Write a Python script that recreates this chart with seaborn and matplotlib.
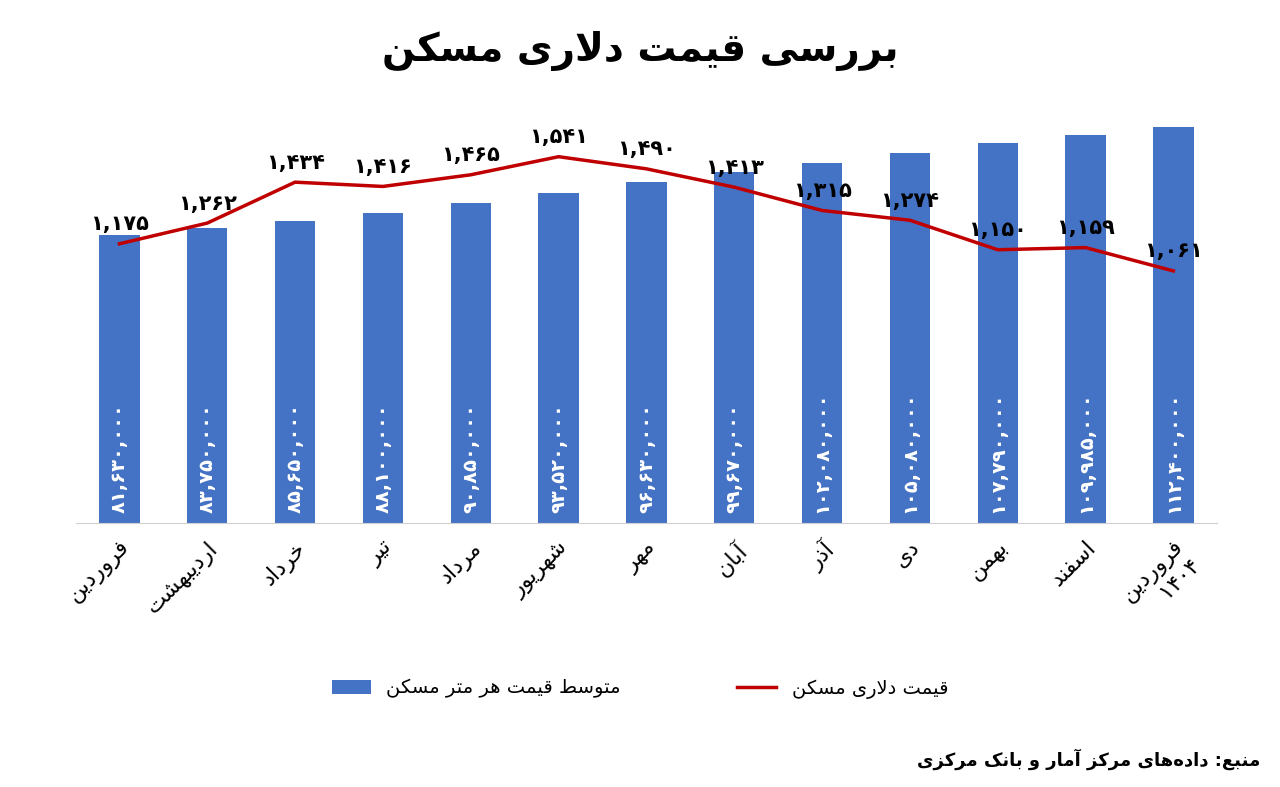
import matplotlib
matplotlib.use("Agg")
import matplotlib.pyplot as plt
import seaborn as sns
import pandas as pd
import re

# Persian shaping (matplotlib has no bidi / joining support)
FORMS = {
    'ا': ('\uFE8D', '\uFE8E', None, None), 'آ': ('\uFE81', '\uFE82', None, None),
    'ب': ('\uFE8F', '\uFE90', '\uFE91', '\uFE92'), 'ت': ('\uFE95', '\uFE96', '\uFE97', '\uFE98'),
    'ج': ('\uFE9D', '\uFE9E', '\uFE9F', '\uFEA0'), 'ح': ('\uFEA1', '\uFEA2', '\uFEA3', '\uFEA4'),
    'خ': ('\uFEA5', '\uFEA6', '\uFEA7', '\uFEA8'), 'د': ('\uFEA9', '\uFEAA', None, None),
    'ذ': ('\uFEAB', '\uFEAC', None, None), 'ر': ('\uFEAD', '\uFEAE', None, None),
    'ز': ('\uFEAF', '\uFEB0', None, None), 'س': ('\uFEB1', '\uFEB2', '\uFEB3', '\uFEB4'),
    'ش': ('\uFEB5', '\uFEB6', '\uFEB7', '\uFEB8'), 'ط': ('\uFEC1', '\uFEC2', '\uFEC3', '\uFEC4'),
    'ع': ('\uFEC9', '\uFECA', '\uFECB', '\uFECC'), 'ف': ('\uFED1', '\uFED2', '\uFED3', '\uFED4'),
    'ق': ('\uFED5', '\uFED6', '\uFED7', '\uFED8'), 'ک': ('\uFB8E', '\uFB8F', '\uFB90', '\uFB91'),
    'ل': ('\uFEDD', '\uFEDE', '\uFEDF', '\uFEE0'), 'م': ('\uFEE1', '\uFEE2', '\uFEE3', '\uFEE4'),
    'ن': ('\uFEE5', '\uFEE6', '\uFEE7', '\uFEE8'), 'ه': ('\uFEE9', '\uFEEA', '\uFEEB', '\uFEEC'),
    'و': ('\uFEED', '\uFEEE', None, None), 'ی': ('\uFBFC', '\uFBFD', '\uFBFE', '\uFBFF'),
}


def shape_word(w):
    w = w.replace('لا', '\uE000')
    out = []
    for i, c in enumerate(w):
        if c == '\uE000':
            prev = w[i - 1] if i > 0 else ''
            joins = prev in FORMS and FORMS[prev][2] is not None
            out.append('\uFEFC' if joins else '\uFEFB')
            continue
        if c not in FORMS:
            out.append(c)
            continue
        prev = w[i - 1] if i > 0 else ''
        nxt = w[i + 1] if i + 1 < len(w) else ''
        jp = prev in FORMS and FORMS[prev][2] is not None
        jn = FORMS[c][2] is not None and (nxt in FORMS or nxt == '\uE000')
        f = FORMS[c]
        if jp and jn:
            out.append(f[3])
        elif jp:
            out.append(f[1])
        elif jn:
            out.append(f[2])
        else:
            out.append(f[0])
    return ''.join(out)


def fa(text):
    lines = []
    for line in text.split('\n'):
        toks = re.findall(r'[۰-۹0-9,]+|[^۰-۹0-9,]+', line)
        res = []
        for t in toks:
            if re.fullmatch(r'[۰-۹0-9,]+', t):
                res.append(t)
            else:
                res.append(shape_word(t).replace('\u200c', '')[::-1])
        lines.append(''.join(res[::-1]))
    return '\n'.join(lines)


def pdig(s):
    return s.translate(str.maketrans('0123456789', '۰۱۲۳۴۵۶۷۸۹'))


months = ['فروردین', 'اردیبهشت', 'خرداد', 'تیر', 'مرداد', 'شهریور', 'مهر',
          'آبان', 'آذر', 'دی', 'بهمن', 'اسفند', 'فروردین\n۱۴۰۴']
price_per_m2 = [81630000, 83750000, 85650000, 88100000, 90850000, 93520000, 96630000,
                99670000, 102080000, 105080000, 107790000, 109985000, 112400000]
dollar_price = [1175, 1262, 1434, 1416, 1465, 1541, 1490, 1413, 1315, 1274, 1150, 1159, 1061]

title = 'بررسی قیمت دلاری مسکن'
bar_name = 'متوسط قیمت هر متر مسکن'
line_name = 'قیمت دلاری مسکن'
source = 'منبع: داده‌های مرکز آمار و بانک مرکزی'

plt.rcParams['font.family'] = 'DejaVu Sans'
df = pd.DataFrame({'i': range(len(months)), 'price': price_per_m2, 'usd': dollar_price})

fig = plt.figure(figsize=(12.8, 7.87), dpi=100)
ax = fig.add_axes([0.059, 0.335, 0.892, 0.52])
sns.barplot(data=df, x='i', y='price', color='#4472C4', width=0.46, ax=ax,
            saturation=1, label=fa(bar_name))
ax.set_ylim(0, 116e6)
for i, v in enumerate(price_per_m2):
    ax.text(i, 3e6, pdig(f'{v:,}'), rotation=90, ha='center', va='bottom',
            color='white', fontsize=14, fontweight='bold')
ax.set_xticks(range(len(months)))
ax.set_xticklabels([fa(m) for m in months], rotation=45, ha='right',
                   rotation_mode='anchor', fontsize=16)
ax.set_yticks([])
ax.set_xlabel('')
ax.set_ylabel('')
for s in ['top', 'right', 'left']:
    ax.spines[s].set_visible(False)
ax.spines['bottom'].set_color('#d0d0d0')
ax.tick_params(axis='x', length=0, pad=10)

ax2 = ax.twinx()
sns.lineplot(data=df, x='i', y='usd', color='#C00000', linewidth=2.5, ax=ax2,
             label=fa(line_name))
ax2.set_ylim(0, 1720)
ax2.axis('off')
for i, v in enumerate(dollar_price):
    ax2.text(i, v + 40, pdig(f'{v:,}'), ha='center', va='bottom', fontsize=15,
             fontweight='bold')
ax.set_xlim(-0.5, len(months) - 0.5)
ax2.set_xlim(-0.5, len(months) - 0.5)

h1, l1 = ax.get_legend_handles_labels()
h2, l2 = ax2.get_legend_handles_labels()
if ax.get_legend():
    ax.get_legend().remove()
ax2.get_legend().remove()
fig.legend(h1 + h2, l1 + l2, loc='center', bbox_to_anchor=(0.5, 0.125), ncol=2,
           frameon=False, fontsize=14, columnspacing=6)

fig.text(0.5, 0.935, fa(title), ha='center', va='center', fontsize=28, fontweight='bold')
fig.text(0.985, 0.035, fa(source), ha='right', va='center', fontsize=13, fontweight='bold')
fig.savefig('out.png', dpi=100)
